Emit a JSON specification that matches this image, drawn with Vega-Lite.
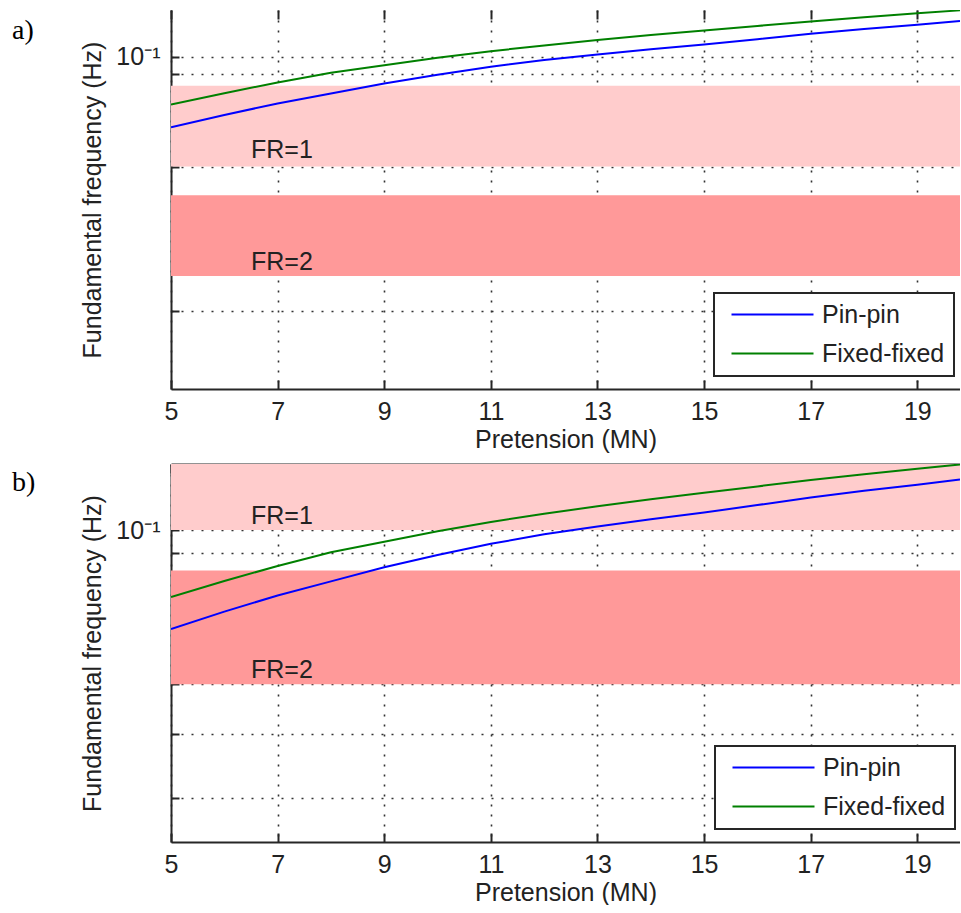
{
  "$schema": "https://vega.github.io/schema/vega-lite/v6.json",
  "padding": {"left": 12, "top": 9, "right": 0, "bottom": 0},
  "background": "white",
  "spacing": 11,
  "datasets": {
    "curves": [
      {"support": "Pin-pin", "pretension": 5, "frequency": 0.0641},
      {"support": "Pin-pin", "pretension": 6, "frequency": 0.0693},
      {"support": "Pin-pin", "pretension": 7, "frequency": 0.0745},
      {"support": "Pin-pin", "pretension": 8, "frequency": 0.0794},
      {"support": "Pin-pin", "pretension": 9, "frequency": 0.0846},
      {"support": "Pin-pin", "pretension": 10, "frequency": 0.0894},
      {"support": "Pin-pin", "pretension": 11, "frequency": 0.0940},
      {"support": "Pin-pin", "pretension": 12, "frequency": 0.0981},
      {"support": "Pin-pin", "pretension": 13, "frequency": 0.1016},
      {"support": "Pin-pin", "pretension": 14, "frequency": 0.1050},
      {"support": "Pin-pin", "pretension": 15, "frequency": 0.1082},
      {"support": "Pin-pin", "pretension": 16, "frequency": 0.1119},
      {"support": "Pin-pin", "pretension": 17, "frequency": 0.1158},
      {"support": "Pin-pin", "pretension": 18, "frequency": 0.1193},
      {"support": "Pin-pin", "pretension": 19, "frequency": 0.1226},
      {"support": "Pin-pin", "pretension": 19.8, "frequency": 0.1255},
      {"support": "Fixed-fixed", "pretension": 5, "frequency": 0.0740},
      {"support": "Fixed-fixed", "pretension": 6, "frequency": 0.0795},
      {"support": "Fixed-fixed", "pretension": 7, "frequency": 0.0851},
      {"support": "Fixed-fixed", "pretension": 8, "frequency": 0.0905},
      {"support": "Fixed-fixed", "pretension": 9, "frequency": 0.0949},
      {"support": "Fixed-fixed", "pretension": 10, "frequency": 0.0995},
      {"support": "Fixed-fixed", "pretension": 11, "frequency": 0.1037},
      {"support": "Fixed-fixed", "pretension": 12, "frequency": 0.1076},
      {"support": "Fixed-fixed", "pretension": 13, "frequency": 0.1113},
      {"support": "Fixed-fixed", "pretension": 14, "frequency": 0.1149},
      {"support": "Fixed-fixed", "pretension": 15, "frequency": 0.1183},
      {"support": "Fixed-fixed", "pretension": 16, "frequency": 0.1217},
      {"support": "Fixed-fixed", "pretension": 17, "frequency": 0.1252},
      {"support": "Fixed-fixed", "pretension": 18, "frequency": 0.1285},
      {"support": "Fixed-fixed", "pretension": 19, "frequency": 0.1318},
      {"support": "Fixed-fixed", "pretension": 19.8, "frequency": 0.1343}
    ],
    "bands_a": [
      {"band": "FR=1", "lo": 0.05, "hi": 0.083333},
      {"band": "FR=2", "lo": 0.025, "hi": 0.041667}
    ],
    "bands_b": [
      {"band": "FR=1", "lo": 0.1, "hi": 0.166667},
      {"band": "FR=2", "lo": 0.05, "hi": 0.083333}
    ],
    "labels_a": [
      {"band": "FR=1", "pretension": 6.5, "frequency": 0.0528},
      {"band": "FR=2", "pretension": 6.5, "frequency": 0.02594}
    ],
    "labels_b": [
      {"band": "FR=1", "pretension": 6.5, "frequency": 0.1027},
      {"band": "FR=2", "pretension": 6.5, "frequency": 0.0515}
    ]
  },
  "vconcat": [
    {
      "width": 789,
      "height": 379,
      "title": {"text": "a)", "anchor": "start", "frame": "group", "orient": "top", "offset": -58, "dx": -159, "font": "Liberation Serif", "fontSize": 28, "fontWeight": "normal", "color": "black", "baseline": "alphabetic"},
      "layer": [
        {
          "data": {"name": "bands_a"},
          "mark": {"type": "rect", "clip": true},
          "encoding": {
            "y": {"field": "lo", "type": "quantitative", "scale": {"type": "log", "domain": [0.01224, 0.1346], "nice": false, "zero": false},
              "axis": {"orient": "left", "values": [0.02, 0.03, 0.04, 0.05, 0.06, 0.07, 0.08, 0.09, 0.1], "labelExpr": "datum.value > 0.099 && datum.value < 0.101 ? '10⁻¹' : ''", "grid": true, "tickSize": -8, "labelPadding": 19, "title": "Fundamental frequency (Hz)", "titlePadding": 10}},
            "y2": {"field": "hi"},
            "fill": {"field": "band", "type": "nominal", "scale": {"domain": ["FR=1", "FR=2"], "range": ["#ffcccc", "#ff9999"]}, "legend": null}
          }
        },
        {
          "data": {"name": "labels_a"},
          "mark": {"type": "text", "align": "left", "baseline": "alphabetic", "font": "Liberation Sans", "fontSize": 25, "color": "#222222"},
          "encoding": {
            "x": {"field": "pretension", "type": "quantitative", "scale": {"domain": [5, 19.8], "nice": false, "zero": false},
              "axis": {"orient": "top", "values": [5, 7, 9, 11, 13, 15, 17, 19], "labels": false, "grid": false, "ticks": true, "tickSize": -9, "domain": false, "title": null}},
            "y": {"field": "frequency", "type": "quantitative", "scale": {"type": "log", "domain": [0.01224, 0.1346], "nice": false, "zero": false},
              "axis": {"orient": "left", "values": [0.02, 0.03, 0.04, 0.05, 0.06, 0.07, 0.08, 0.09, 0.1], "labelExpr": "datum.value > 0.099 && datum.value < 0.101 ? '10⁻¹' : ''", "grid": true, "tickSize": -8, "labelPadding": 19, "title": "Fundamental frequency (Hz)", "titlePadding": 10}},
            "text": {"field": "band"}
          }
        },
        {
          "data": {"name": "curves"},
          "mark": {"type": "line", "strokeWidth": 2, "clip": true},
          "encoding": {
            "x": {"field": "pretension", "type": "quantitative", "scale": {"domain": [5, 19.8], "nice": false, "zero": false},
              "axis": {"orient": "bottom", "values": [5, 7, 9, 11, 13, 15, 17, 19], "format": "d", "grid": true, "tickSize": -9, "labelPadding": 19, "title": "Pretension (MN)", "titlePadding": 3}},
            "y": {"field": "frequency", "type": "quantitative", "scale": {"type": "log", "domain": [0.01224, 0.1346], "nice": false, "zero": false},
              "axis": {"orient": "left", "values": [0.02, 0.03, 0.04, 0.05, 0.06, 0.07, 0.08, 0.09, 0.1], "labelExpr": "datum.value > 0.099 && datum.value < 0.101 ? '10⁻¹' : ''", "grid": true, "tickSize": -8, "labelPadding": 19, "title": "Fundamental frequency (Hz)", "titlePadding": 10}},
            "color": {"field": "support", "type": "nominal", "scale": {"domain": ["Pin-pin", "Fixed-fixed"], "range": ["#0000ff", "#008000"]},
              "legend": {"orient": "none", "legendX": 543, "legendY": 283, "title": null, "fillColor": "white", "strokeColor": "#262626", "padding": 9, "symbolType": "M-4.1,0H4.1", "symbolSize": 400, "symbolStrokeWidth": 2, "labelFontSize": 25, "labelFont": "Liberation Sans", "labelColor": "#222222", "rowPadding": 13, "labelOffset": 37, "symbolOffset": 37}}
          }
        }
      ]
    },
    {
      "width": 789,
      "height": 378,
      "title": {"text": "b)", "anchor": "start", "frame": "group", "orient": "top", "offset": -56, "dx": -159, "font": "Liberation Serif", "fontSize": 28, "fontWeight": "normal", "color": "black", "baseline": "alphabetic"},
      "layer": [
        {
          "data": {"name": "bands_b"},
          "mark": {"type": "rect", "clip": true},
          "encoding": {
            "y": {"field": "lo", "type": "quantitative", "scale": {"type": "log", "domain": [0.02459, 0.1346], "nice": false, "zero": false},
              "axis": {"orient": "left", "values": [0.03, 0.04, 0.05, 0.06, 0.07, 0.08, 0.09, 0.1], "labelExpr": "datum.value > 0.099 && datum.value < 0.101 ? '10⁻¹' : ''", "grid": true, "tickSize": -8, "labelPadding": 19, "title": "Fundamental frequency (Hz)", "titlePadding": 10}},
            "y2": {"field": "hi"},
            "fill": {"field": "band", "type": "nominal", "scale": {"domain": ["FR=1", "FR=2"], "range": ["#ffcccc", "#ff9999"]}, "legend": null}
          }
        },
        {
          "data": {"name": "labels_b"},
          "mark": {"type": "text", "align": "left", "baseline": "alphabetic", "font": "Liberation Sans", "fontSize": 25, "color": "#222222"},
          "encoding": {
            "x": {"field": "pretension", "type": "quantitative", "scale": {"domain": [5, 19.8], "nice": false, "zero": false},
              "axis": {"orient": "top", "values": [5, 7, 9, 11, 13, 15, 17, 19], "labels": false, "grid": false, "ticks": true, "tickSize": -9, "domain": true, "title": null}},
            "y": {"field": "frequency", "type": "quantitative", "scale": {"type": "log", "domain": [0.02459, 0.1346], "nice": false, "zero": false},
              "axis": {"orient": "left", "values": [0.03, 0.04, 0.05, 0.06, 0.07, 0.08, 0.09, 0.1], "labelExpr": "datum.value > 0.099 && datum.value < 0.101 ? '10⁻¹' : ''", "grid": true, "tickSize": -8, "labelPadding": 19, "title": "Fundamental frequency (Hz)", "titlePadding": 10}},
            "text": {"field": "band"}
          }
        },
        {
          "data": {"name": "curves"},
          "mark": {"type": "line", "strokeWidth": 2, "clip": true},
          "encoding": {
            "x": {"field": "pretension", "type": "quantitative", "scale": {"domain": [5, 19.8], "nice": false, "zero": false},
              "axis": {"orient": "bottom", "values": [5, 7, 9, 11, 13, 15, 17, 19], "format": "d", "grid": true, "tickSize": -9, "labelPadding": 19, "title": "Pretension (MN)", "titlePadding": 3}},
            "y": {"field": "frequency", "type": "quantitative", "scale": {"type": "log", "domain": [0.02459, 0.1346], "nice": false, "zero": false},
              "axis": {"orient": "left", "values": [0.03, 0.04, 0.05, 0.06, 0.07, 0.08, 0.09, 0.1], "labelExpr": "datum.value > 0.099 && datum.value < 0.101 ? '10⁻¹' : ''", "grid": true, "tickSize": -8, "labelPadding": 19, "title": "Fundamental frequency (Hz)", "titlePadding": 10}},
            "color": {"field": "support", "type": "nominal", "scale": {"domain": ["Pin-pin", "Fixed-fixed"], "range": ["#0000ff", "#008000"]},
              "legend": {"orient": "none", "legendX": 544, "legendY": 282, "title": null, "fillColor": "white", "strokeColor": "#262626", "padding": 9, "symbolType": "M-4.1,0H4.1", "symbolSize": 400, "symbolStrokeWidth": 2, "labelFontSize": 25, "labelFont": "Liberation Sans", "labelColor": "#222222", "rowPadding": 13, "labelOffset": 37, "symbolOffset": 37}}
          }
        }
      ]
    }
  ],
  "resolve": {"scale": {"y": "independent", "x": "independent", "color": "independent", "fill": "independent"}, "legend": {"color": "independent"}},
  "config": {
    "view": {"stroke": null},
    "axis": {
      "domainColor": "#262626", "domainWidth": 2,
      "tickColor": "#262626", "tickWidth": 2,
      "gridColor": "#333333", "gridDash": [2, 8], "gridWidth": 1.6, "gridOpacity": 1,
      "labelFont": "Liberation Sans", "labelFontSize": 25, "labelColor": "#222222",
      "titleFont": "Liberation Sans", "titleFontSize": 25, "titleFontWeight": "normal", "titleColor": "#222222",
      "labelFlush": false, "labelOverlap": false
    },
    "legend": {"strokeWidth": 2}
  }
}
